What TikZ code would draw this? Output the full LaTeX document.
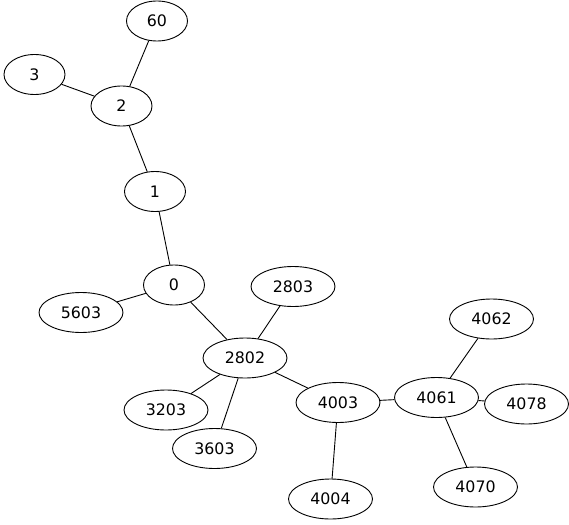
\documentclass[tikz,border=0pt]{standalone}
\usepackage{fontspec}
\setmainfont{DejaVu Sans}
\usetikzlibrary{shapes.geometric}
\tikzset{
 vertex/.style={draw, ellipse, line width=0.9pt, inner sep=0pt, minimum width=61pt, minimum height=40pt, font=\fontsize{15.8}{18}\selectfont},
 wide/.style={vertex, minimum width=84pt},
 edge/.style={line width=0.9pt}
}
\begin{document}
\begin{tikzpicture}[x=1pt, y=-1pt]
 \useasboundingbox (0,0) rectangle (569,524);

 %Nodes
 \node[vertex] (n60) at (157,21) {60};
 \node[vertex] (n3) at (34.5,74.5) {3};
 \node[vertex] (n2) at (121.5,106) {2};
 \node[vertex] (n1) at (155,191.5) {1};
 \node[vertex] (n0) at (174,285) {0};
 \node[wide] (n5603) at (81,312.5) {5603};
 \node[wide] (n2803) at (293,286.5) {2803};
 \node[wide] (n2802) at (245,358) {2802};
 \node[wide] (n3203) at (166,410) {3203};
 \node[wide] (n3603) at (214.5,448.5) {3603};
 \node[wide] (n4003) at (338,402.5) {4003};
 \node[wide] (n4004) at (330.5,499) {4004};
 \node[wide] (n4061) at (436.5,397.5) {4061};
 \node[wide] (n4062) at (491.5,319) {4062};
 \node[wide] (n4078) at (526.5,404) {4078};
 \node[wide] (n4070) at (475.5,487) {4070};

 %Edges
 \draw[edge] (n60) -- (n2);
 \draw[edge] (n3) -- (n2);
 \draw[edge] (n2) -- (n1);
 \draw[edge] (n1) -- (n0);
 \draw[edge] (n0) -- (n5603);
 \draw[edge] (n0) -- (n2802);
 \draw[edge] (n2802) -- (n2803);
 \draw[edge] (n2802) -- (n3203);
 \draw[edge] (n2802) -- (n3603);
 \draw[edge] (n2802) -- (n4003);
 \draw[edge] (n4003) -- (n4004);
 \draw[edge] (n4003) -- (n4061);
 \draw[edge] (n4061) -- (n4062);
 \draw[edge] (n4061) -- (n4078);
 \draw[edge] (n4061) -- (n4070);

\end{tikzpicture}
\end{document}
